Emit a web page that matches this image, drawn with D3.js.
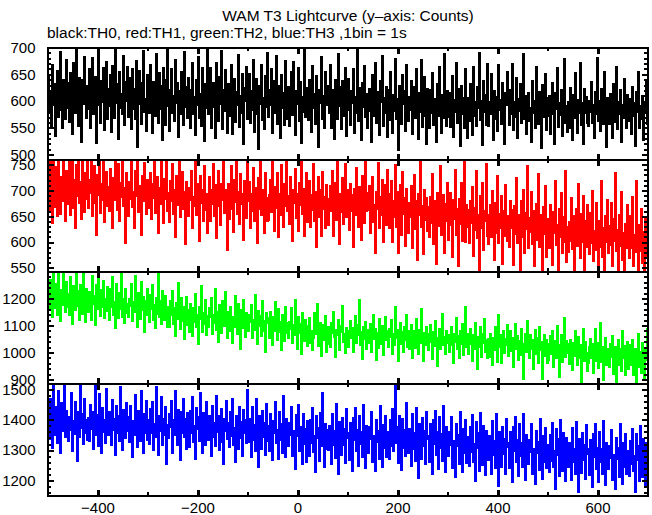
<!DOCTYPE html>
<html><head><meta charset="utf-8">
<script src="https://cdn.jsdelivr.net/npm/d3@7"></script>
<style>html,body{margin:0;padding:0;background:#fff;} svg{display:block;font-family:"Liberation Sans",Arial,Helvetica,sans-serif;}</style>
</head><body><svg id="chart" width="652" height="515"></svg>
<script>
// ---- data ----
const tStart = -500, binSize = 2;   // seconds
const th0 = [
646,577,618,552,668,593,631,534,601,657,570,624,691,584,549,640,609,566,676,588,
633,561,652,598,538,671,620,577,700,590,553,644,607,524,639,594,683,615,569,628,
585,659,550,617,680,575,604,645,521,626,687,593,560,637,599,661,546,612,673,566,
622,591,648,542,666,605,569,697,596,631,530,654,587,614,576,684,556,636,600,663,
571,643,610,548,659,585,622,566,675,515,613,656,594,557,634,693,579,603,545,649,
617,577,668,592,541,635,604,572,688,620,560,652,586,628,527,662,601,556,640,700,
590,544,621,659,578,610,562,676,597,633,533,618,575,655,604,555,692,589,627,568,
644,596,549,621,671,576,608,536,640,593,682,569,614,553,662,601,525,632,587,697,
576,623,661,550,604,634,589,531,672,613,563,645,594,694,548,620,582,658,606,541,
632,573,610,667,538,596,641,561,617,592,686,552,609,577,650,519,624,600,663,567,
606,651,560,619,583,677,543,612,642,575,510,628,594,668,564,605,548,647,589,690,
571,620,593,660,540,608,637,578,684,557,603,629,532,649,588,615,555,675,596,566,
626,553,601,654,574,673,590,537,618,595,661,563,635,521,608,580,696,570,624,593,
564,640,602,543,666,587,614,557,646,581,515,621,596,682,566,610,549,655,592,629,
605,578,668,549,621,593,530,640,606,566,687,590,627,547,637,598,572,662,535,614,
641,584,555,618,596,660,541,607,578,700,562,625,602,528,634,589,665,570,613,550,
582,622,596,524,648,573,608,671,560,617,591,536,637,598,684,553,605,577,626,533,
620,565,654,593,541,611,581,679,566,603,508,628,590,557,648,595,618,545,667,576,
562,607,584,637,538,597,626,568,660,589,530,615,579,676,551,600,645,572,519,622,
596,549,621,577,652,556,603,588,524,631,573,664,594,540,611,569,687,590,553,618,
570,615,551,594,646,533,602,580,672,559,623,591,517,628,576,606,549,659,587,531,
606,563,632,584,537,663,573,598,553,626,588,690,565,601,518,637,579,611,556,669,
553,598,576,651,590,527,619,567,607,545,668,584,602,558,634,576,520,616,593,655,
594,556,621,576,670,546,598,570,644,531,603,582,632,559,592,688,566,610,538,585,
615,562,588,524,637,577,601,549,663,583,557,617,593,512,630,570,598,651,546,605,
573,609,539,592,634,576,520,616,585,662,552,596,574,621,534,601,678,559,590,543,
598,550,625,583,527,611,568,652,589,541,602,578,671,555,596,519,622,577,608,560,
553,601,580,636,560,592,531,617,576,680,563,600,545,623,587,557,655,573,515,605,
592,557,613,578,532,631,584,561,664,548,598,575,621,523,593,569,642,587,550,612,
562,604,583,538,626,573,596,516,617,580,655,549,590,566,610,528,598,577,640,556];
const th1 = [
731,661,756,688,637,784,709,668,745,650,771,697,655,726,680,790,703,641,738,674,
712,760,653,699,779,667,721,628,750,690,802,676,716,644,766,694,659,733,684,788,
667,721,696,768,650,707,748,676,614,730,692,795,657,712,681,755,639,699,736,670,
707,660,742,690,627,724,681,786,698,663,751,640,715,688,773,669,704,598,733,684,
651,716,683,762,668,698,628,737,689,780,658,709,693,613,729,679,754,700,654,720,
703,666,734,644,713,686,770,657,694,726,617,705,674,758,689,637,723,683,805,661,
695,638,719,680,752,655,701,610,728,672,705,774,648,688,735,664,697,597,716,683,
650,705,682,738,627,688,670,761,653,713,691,603,729,676,701,641,747,663,694,618,
691,727,641,700,674,752,651,710,608,687,738,669,633,713,682,778,657,701,675,585,
712,645,686,747,665,620,720,678,765,654,698,636,731,673,694,605,718,682,647,757,
679,716,627,693,661,744,640,705,683,598,725,665,775,652,700,672,618,734,686,641,
642,692,720,658,768,677,621,706,666,733,610,694,652,749,683,629,713,670,796,660,
690,636,726,665,603,701,676,741,646,693,622,715,671,800,655,703,612,682,734,639,
677,719,629,691,662,752,640,697,590,681,726,649,700,611,736,664,687,628,711,671,
633,684,708,660,737,612,676,715,643,770,668,596,694,659,725,636,686,751,648,700,
684,624,712,661,692,590,703,653,744,673,630,706,665,605,728,689,637,776,660,696,
663,708,618,682,727,638,671,579,698,665,754,628,688,652,720,600,679,711,633,739,
694,627,667,718,600,679,648,749,630,697,578,669,710,613,736,654,686,592,703,660,
617,676,648,709,588,664,730,626,679,565,694,652,756,630,670,577,700,643,685,621,
668,610,687,637,731,597,650,679,557,695,632,666,748,613,657,691,578,673,641,714,
605,659,696,633,572,681,645,740,614,665,554,684,636,715,603,655,768,601,671,630,
662,599,679,637,707,574,666,624,738,607,652,540,689,628,715,585,661,640,752,612,
596,652,671,609,699,632,566,675,617,728,598,654,628,690,558,660,611,711,640,602,
651,590,680,628,663,556,669,616,725,598,652,634,541,679,609,701,578,657,625,748,
589,647,620,697,597,661,553,632,673,605,731,590,652,622,539,668,615,709,572,642,
645,589,672,610,555,658,618,719,594,634,531,664,609,695,578,648,601,738,562,629,
580,638,603,686,586,651,528,627,665,592,712,611,569,654,600,690,546,641,590,672,
638,576,657,598,699,563,622,584,675,607,519,641,590,718,572,627,537,651,601,682,
578,632,595,676,554,645,603,734,583,624,526,652,592,697,565,618,512,636,588,672,
631,570,651,589,688,553,613,580,718,596,520,634,583,665,560,620,535,644,601,568];
const th2 = [
1239,1158,1270,1192,1131,1318,1214,1163,1254,1140,1296,1201,1118,1233,1175,1340,1222,1149,1262,1168,
1215,1137,1278,1184,1106,1247,1203,1156,1325,1171,1226,1122,1251,1189,1142,1293,1196,1113,1236,1160,
1151,1224,1187,1120,1284,1178,1210,1103,1249,1161,1340,1192,1135,1230,1168,1266,1126,1199,1154,1242,
1208,1119,1234,1170,1281,1139,1186,1090,1255,1174,1127,1221,1160,1297,1133,1197,1111,1237,1178,1146,
1131,1199,1172,1254,1115,1186,1150,1285,1168,1093,1220,1177,1124,1262,1158,1206,1076,1190,1139,1235,
1186,1112,1213,1160,1250,1122,1175,1090,1203,1142,1307,1133,1190,1104,1227,1157,1119,1208,1166,1096,
1167,1093,1191,1139,1229,1107,1164,1060,1183,1125,1258,1146,1088,1203,1118,1170,1049,1150,1206,1101,
1158,1075,1181,1128,1060,1164,1113,1218,1094,1137,1030,1170,1123,1245,1077,1146,1106,1193,1066,1135,
1094,1165,1131,1200,1069,1138,1108,1236,1085,1150,1040,1175,1121,1073,1190,1133,1098,1223,1115,1055,
1150,1079,1169,1112,1036,1133,1096,1210,1122,1068,1181,1107,1012,1158,1090,1194,1126,1057,1146,1085,
1080,1140,1113,1177,1055,1121,1085,1212,1104,1030,1155,1098,1134,1062,1190,1081,1117,1003,1147,1108,
1129,1054,1150,1090,1026,1131,1078,1188,1100,1046,1160,1075,1112,1008,1140,1094,1041,1170,1073,1109,
1055,1113,1087,1166,1036,1100,1064,1193,1080,1013,1131,1071,1104,995,1146,1086,1043,1122,1091,1024,
1098,1127,1036,1079,1010,1054,1148,1090,1068,1180,1023,1083,1111,988,1072,1103,1047,1135,1003,1080,
1096,1033,1019,1111,1073,1149,1056,985,1084,1064,1121,1010,1099,1077,1172,1039,1070,997,1089,1058,
1020,1080,1118,1055,1091,1000,1068,1136,1036,1102,1064,1196,1028,1074,976,1095,1050,1112,1012,1083,
1074,1035,1105,1003,1062,1140,1051,1088,973,1071,1017,1124,1060,1031,1098,990,1066,1130,1046,1081,
1019,1087,1059,1120,996,1067,1027,1167,1053,1082,967,1062,1110,1033,1074,1001,1095,1045,1140,1020,
1079,1011,1054,1103,980,1079,1046,1017,1125,1057,993,1085,1034,1160,1061,968,1072,1026,1095,1049,
1008,1068,1100,1040,976,1074,1024,1118,1052,951,1048,1087,1014,1066,1141,1028,1057,993,1080,1036,
1064,1001,1050,1095,1026,960,1070,1038,1128,1013,1062,978,1079,1033,1107,992,1049,1170,1019,1068,
994,1050,1086,1032,969,1063,1012,1110,1040,940,1056,1020,1094,985,1070,1036,1125,1000,1047,979,
1051,984,1067,1028,952,1055,1010,1095,1033,966,1140,1021,1063,961,1039,1081,997,1050,1026,1101,
987,1041,1078,1006,1052,945,1025,1104,1014,1061,972,1043,991,1086,1031,903,1020,1068,1003,1117,
1044,980,1063,1013,1047,937,1022,1083,993,1052,961,1096,1008,1037,900,1028,1066,987,1048,962,
973,1030,1060,994,1080,947,1013,1041,979,1099,1002,910,1029,1065,963,1020,1128,985,1044,998,
1032,958,1045,1006,935,1035,987,1080,1012,954,1058,981,1029,889,1014,1088,970,1040,999,930,
961,1019,1050,981,1030,924,997,1087,970,1036,942,1007,1110,965,1022,897,988,1055,955,1012,
1010,945,1033,983,1062,921,974,1021,892,996,1045,955,1011,932,1080,979,1025,915,988,1040,
940,990,1027,953,1048,916,978,1013,890,984,1067,945,1000,925,1034,968,905,1016,972,1090];
const th3 = [
1425,1338,1468,1371,1307,1530,1401,1350,1441,1322,1495,1389,1290,1455,1362,1413,1560,1343,1430,1366,
1331,1410,1366,1487,1298,1395,1352,1459,1384,1265,1426,1342,1518,1372,1419,1320,1470,1357,1400,1335,
1406,1330,1450,1369,1425,1303,1388,1565,1351,1417,1314,1484,1380,1289,1438,1360,1399,1322,1502,1375,
1350,1427,1384,1316,1466,1368,1402,1283,1445,1356,1412,1329,1508,1378,1299,1432,1391,1340,1457,1362,
1410,1327,1445,1364,1278,1396,1349,1481,1383,1311,1428,1370,1331,1495,1391,1290,1418,1358,1462,1335,
1398,1320,1436,1357,1459,1300,1387,1344,1510,1375,1285,1412,1364,1477,1318,1403,1351,1443,1255,1382,
1340,1419,1375,1461,1290,1398,1350,1495,1365,1317,1433,1386,1268,1425,1358,1470,1342,1402,1302,1421,
1396,1311,1430,1355,1476,1326,1380,1271,1440,1370,1408,1330,1490,1360,1290,1422,1375,1316,1458,1345,
1332,1411,1372,1282,1446,1344,1388,1313,1480,1360,1412,1301,1380,1437,1327,1253,1402,1364,1463,1338,
1390,1310,1425,1347,1470,1318,1372,1262,1414,1363,1305,1444,1339,1393,1281,1431,1356,1400,1324,1500,
1326,1403,1362,1278,1441,1335,1382,1296,1468,1358,1245,1411,1370,1305,1430,1342,1390,1284,1452,1330,
1381,1296,1418,1337,1266,1395,1357,1460,1322,1368,1270,1425,1334,1386,1292,1478,1350,1277,1404,1362,
1314,1390,1351,1443,1280,1364,1325,1238,1416,1345,1450,1297,1375,1335,1255,1420,1320,1369,1262,1395,
1367,1280,1400,1325,1440,1294,1348,1229,1411,1339,1374,1265,1422,1313,1490,1334,1245,1385,1302,1368,
1300,1381,1343,1255,1420,1316,1362,1273,1452,1331,1221,1394,1348,1283,1406,1318,1370,1257,1437,1340,
1355,1268,1390,1314,1230,1405,1332,1440,1297,1367,1249,1411,1320,1360,1276,1450,1336,1240,1380,1303,
1291,1375,1337,1425,1262,1346,1310,1232,1400,1326,1364,1270,1447,1341,1244,1384,1306,1413,1276,1355,
1360,1271,1398,1315,1437,1298,1348,1520,1322,1375,1256,1411,1337,1234,1402,1306,1366,1282,1455,1340,
1290,1371,1333,1247,1418,1305,1356,1265,1440,1328,1207,1386,1340,1272,1405,1312,1362,1254,1425,1336,
1348,1260,1387,1303,1221,1398,1320,1430,1283,1360,1236,1409,1306,1352,1263,1445,1329,1228,1375,1293,
1280,1360,1318,1410,1240,1330,1292,1212,1385,1313,1350,1254,1425,1325,1226,1370,1290,1400,1257,1342,
1335,1249,1375,1293,1415,1262,1320,1198,1392,1307,1358,1230,1421,1296,1250,1380,1312,1218,1362,1281,
1268,1348,1306,1222,1396,1283,1330,1240,1418,1300,1180,1361,1315,1243,1376,1288,1338,1221,1402,1309,
1324,1240,1361,1278,1195,1377,1298,1409,1261,1333,1215,1385,1282,1325,1245,1420,1305,1200,1350,1266,
1255,1335,1295,1385,1220,1304,1268,1187,1362,1290,1328,1233,1402,1299,1205,1345,1262,1372,1240,1318,
1315,1227,1350,1265,1390,1245,1296,1170,1370,1284,1338,1213,1399,1270,1230,1358,1291,1198,1340,1256,
1245,1325,1285,1200,1372,1260,1305,1220,1392,1279,1160,1338,1293,1225,1355,1266,1316,1206,1383,1287,
1303,1218,1335,1260,1178,1352,1276,1386,1237,1308,1195,1360,1262,1302,1220,1395,1283,1185,1325,1245,
1237,1315,1275,1365,1200,1285,1250,1172,1340,1269,1306,1210,1385,1281,1189,1325,1243,1352,1222,1297,
1295,1216,1330,1255,1370,1230,1280,1163,1352,1266,1312,1198,1380,1258,1212,1338,1275,1178,1322,1244];

const seriesNames = ["TH0", "TH1", "TH2", "TH3"];
const seriesColors = ["#000000", "#ff0000", "#00ff00", "#0000ff"];
const yDomains = [[491, 700], [543, 760], [885, 1300], [1150, 1520]];
const yMajorTicks = [[500, 550, 600, 650, 700], [550, 600, 650, 700, 750], [900, 1000, 1100, 1200], [1200, 1300, 1400, 1500]];
const yMinorStep = [10, 10, 20, 20];
const xDomain = [-500, 700];
const xMajorTicks = [-400, -200, 0, 200, 400, 600];
const xMinorTicks = [-300, -100, 100, 300, 500];
const titleText = "WAM T3 Lightcurve (y\u2013axis: Counts)";
const subtitleText = "black:TH0, red:TH1, green:TH2, blue:TH3 ,1bin = 1s";

// ---- drawing ----
const allSeries = [th0, th1, th2, th3];
const svg = d3.select("#chart");
const left = 47.5, right = 647.5, top0 = 47.5, panelH = 112;
const x = d3.scaleLinear().domain(xDomain).range([left, right]);

svg.append("text").attr("x", 348).attr("y", 21).attr("text-anchor", "middle")
  .attr("font-size", 15.5).text(titleText);
svg.append("text").attr("x", 47).attr("y", 37.5).attr("font-size", 15.5).text(subtitleText);

const defs = svg.append("defs");

allSeries.forEach((vals, p) => {
  const pt = top0 + p * panelH, pb = pt + panelH;
  const y = d3.scaleLinear().domain(yDomains[p]).range([pb, pt]);
  const times = d3.range(vals.length).map(i => tStart + i * binSize);
  const data = vals.map((v, i) => [times[i], v]);

  defs.append("clipPath").attr("id", "clip" + p).append("rect")
    .attr("x", left).attr("y", pt).attr("width", right - left).attr("height", panelH);

  const line = d3.line().x(d => x(d[0])).y(d => y(d[1])).curve(d3.curveStepAfter);
  svg.append("path").datum(data)
    .attr("clip-path", "url(#clip" + p + ")")
    .attr("fill", "none").attr("stroke", seriesColors[p]).attr("stroke-width", 2)
    .attr("shape-rendering", "crispEdges")
    .attr("d", line);

  const minor = d3.range(Math.ceil(yDomains[p][0] / yMinorStep[p]) * yMinorStep[p], yDomains[p][1] + 0.001, yMinorStep[p])
    .filter(v => !yMajorTicks[p].includes(v));

  const g = svg.append("g").attr("class", "axes").attr("shape-rendering", "crispEdges");
  function styleAxis(sel, w) {
    sel.select(".domain").remove();
    sel.selectAll(".tick line").attr("stroke", "#000").attr("stroke-width", w);
  }
  g.append("g").attr("transform", `translate(${left},0)`)
    .call(d3.axisLeft(y).tickValues(yMajorTicks[p]).tickSize(-6).tickPadding(12).tickFormat(d3.format("d")))
    .call(s => styleAxis(s, 2))
    .call(s => s.selectAll("text").attr("font-size", 15).attr("font-family", "Liberation Sans, Arial, sans-serif").attr("fill", "#000"));
  g.append("g").attr("transform", `translate(${left},0)`)
    .call(d3.axisLeft(y).tickValues(minor).tickSize(-3.5).tickFormat(""))
    .call(s => styleAxis(s, 2));
  g.append("g").attr("transform", `translate(${right},0)`)
    .call(d3.axisRight(y).tickValues(yMajorTicks[p]).tickSize(-6).tickFormat(""))
    .call(s => styleAxis(s, 2));
  g.append("g").attr("transform", `translate(${right},0)`)
    .call(d3.axisRight(y).tickValues(minor).tickSize(-3.5).tickFormat(""))
    .call(s => styleAxis(s, 2));
  g.append("g").attr("transform", `translate(0,${pt})`)
    .call(d3.axisTop(x).tickValues(xMajorTicks).tickSize(-6).tickFormat(""))
    .call(s => styleAxis(s, 3));
  g.append("g").attr("transform", `translate(0,${pt})`)
    .call(d3.axisTop(x).tickValues(xMinorTicks).tickSize(-3.5).tickFormat(""))
    .call(s => styleAxis(s, 2));
  const bottomAxis = g.append("g").attr("transform", `translate(0,${pb})`)
    .call(d3.axisBottom(x).tickValues(xMajorTicks).tickSize(-6).tickPadding(7)
      .tickFormat(p === allSeries.length - 1 ? d3.format("d") : ""))
    .call(s => styleAxis(s, 3));
  bottomAxis.selectAll("text").attr("font-size", 15).attr("font-family", "Liberation Sans, Arial, sans-serif").attr("fill", "#000");
  g.append("g").attr("transform", `translate(0,${pb})`)
    .call(d3.axisBottom(x).tickValues(xMinorTicks).tickSize(-3.5).tickFormat(""))
    .call(s => styleAxis(s, 2));

  svg.append("rect").attr("x", left).attr("y", pt).attr("width", right - left).attr("height", panelH)
    .attr("fill", "none").attr("stroke", "#000").attr("stroke-width", 2).attr("shape-rendering", "crispEdges");
});
</script>
</body></html>
